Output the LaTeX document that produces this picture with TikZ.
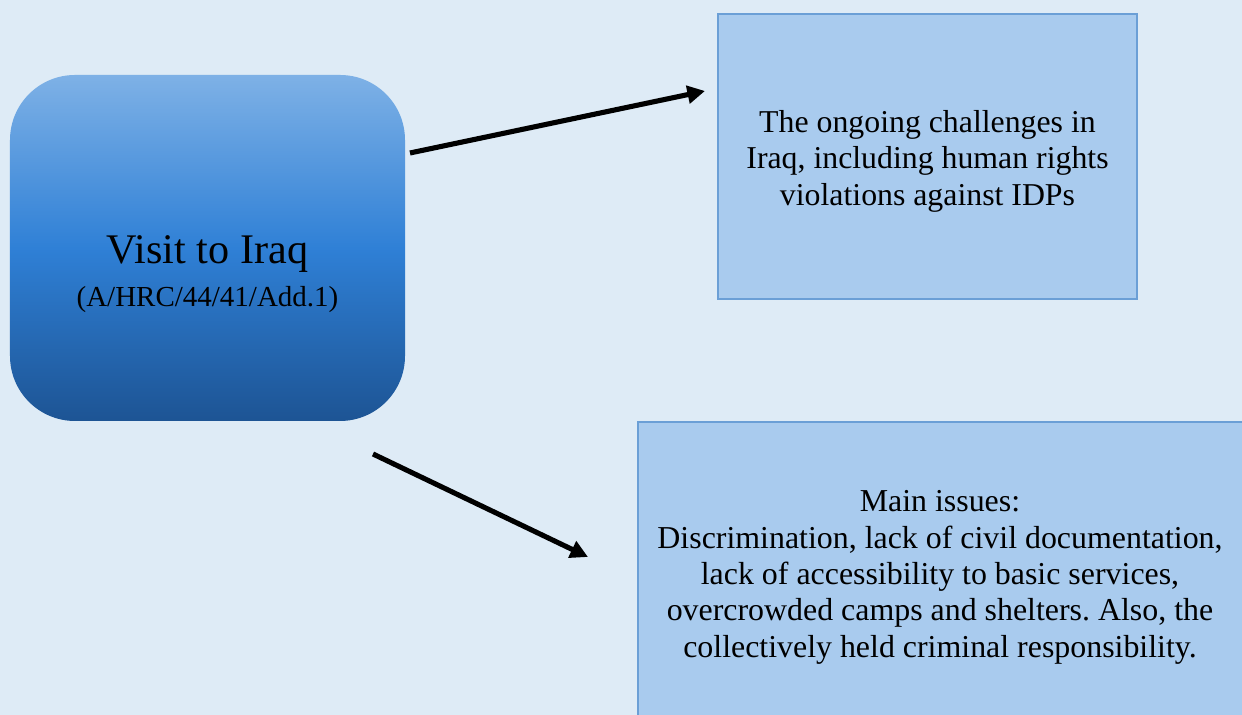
\documentclass[tikz,border=0pt]{standalone}
\usepackage{fontspec}
\setmainfont{Liberation Serif}
\usetikzlibrary{arrows.meta}
\definecolor{pagebg}{HTML}{DEEBF6}
\definecolor{boxfill}{HTML}{A9CBEE}
\definecolor{boxline}{HTML}{6B9FD6}
\definecolor{visittop}{HTML}{7EB1E6}
\definecolor{visitmid}{HTML}{2F80D6}
\definecolor{visitbot}{HTML}{1D5494}
\frenchspacing
\begin{document}
\begin{tikzpicture}[>={Triangle[length=10pt, width=10pt]}, line width=2.9pt,
    infobox/.style={draw=boxline, line width=1.2pt, fill=boxfill, inner sep=0pt,
        align=center, font=\fontsize{18.1}{20.7}\selectfont},
    visitbox/.style={rounded corners=1.3cm, top color=visittop, bottom color=visitbot,
        middle color=visitmid, minimum width=7.9cm, minimum height=6.92cm, inner sep=0pt}]
    % Background
    \useasboundingbox[fill=pagebg] (0, 0) rectangle (24.84, 14.3);
    
    % Boxes
    \node[visitbox] (visit) at (4.15, 9.34) {};
    \node[align=center] (visittext) at (4.15, 8.82)
        {\fontsize{24}{27}\selectfont Visit to Iraq\\[7pt]
         \fontsize{16.5}{19}\selectfont (A/HRC/44/41/Add.1)};
    \node[infobox, minimum width=8.38cm, minimum height=5.7cm] (challenges) at (18.55, 11.17)
        {\mbox{}\\[-2.8pt] The ongoing challenges in\\ Iraq, including human rights\\ violations against IDPs};
    \node[infobox, anchor=north west, minimum width=13cm, minimum height=7cm] (issues) at (12.74, 5.88) {};
    \node[align=center, font=\fontsize{18.15}{20.7}\selectfont] (issuestext) at (18.8, 2.75)
        {Main issues:\\ Discrimination, lack of civil documentation,\\ lack of accessibility to basic services,\\
         overcrowded camps and shelters. Also, the\\ collectively held criminal responsibility.};
    
    % Points
    \coordinate (upfrom) at (8.2, 11.24);
    \coordinate (upto) at (14.1, 12.48);
    \coordinate (downfrom) at (7.46, 5.22);
    \coordinate (downto) at (11.76, 3.16);
    
    % Arrows
    \draw[->] (upfrom) -- (upto);
    \draw[->] (downfrom) -- (downto);
\end{tikzpicture}
\end{document}
